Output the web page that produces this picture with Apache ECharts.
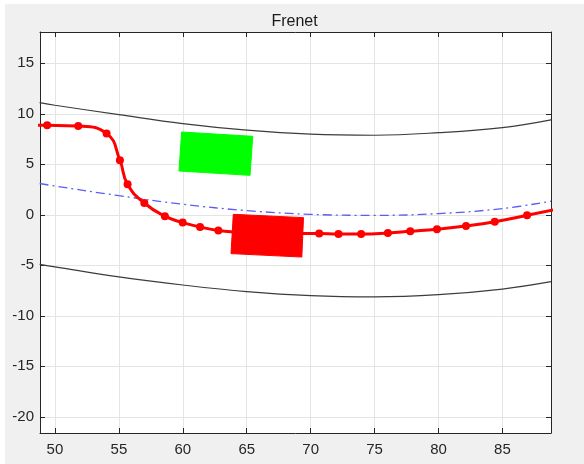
<!DOCTYPE html>
<html>
<head>
<meta charset="utf-8">
<script src="https://cdn.jsdelivr.net/npm/echarts@6/dist/echarts.min.js"></script>
<style>
  html, body { margin: 0; padding: 0; background: #ffffff; }
  #chart { position: absolute; left: 5px; top: 4px; width: 579px; height: 460px; }
</style>
</head>
<body>
<div id="chart"></div>
<script>
// Axis ranges and tick labels
const xRange = [48.83, 88.8];
const yRange = [-21.6, 18.1];
const xTicks = [50, 55, 60, 65, 70, 75, 80, 85];
const yTicks = [-20, -15, -10, -5, 0, 5, 10, 15];

// Road reference line (dash-dot) and lane boundaries
const centerX = [48.8, 50, 55, 60, 65, 70, 75, 80, 85, 88.8];
const centerY = [3.1, 2.85, 1.9, 1.05, 0.42, 0.05, -0.05, 0.12, 0.62, 1.35];
const upperY  = [11.1, 10.85, 9.92, 9.03, 8.38, 7.98, 7.88, 8.13, 8.63, 9.4];
const lowerY  = [-4.9, -5.15, -6.15, -6.95, -7.6, -8.0, -8.12, -7.9, -7.35, -6.62];

// Planned trajectory samples
const pathX = [47.0, 49.39, 51.82, 54.04, 55.08, 55.68, 56.99, 58.6, 59.99, 61.35, 62.78,
               64.2, 65.7, 67.2, 68.7, 70.67, 72.18, 73.95, 76.04, 77.79, 79.88, 82.15, 84.4, 86.93, 89.4];
const pathY = [8.88, 8.86, 8.79, 8.04, 5.40, 3.02, 1.17, -0.13, -0.77, -1.2, -1.55,
               -1.7, -1.77, -1.82, -1.85, -1.86, -1.9, -1.9, -1.8, -1.63, -1.42, -1.1, -0.68, -0.05, 0.6];

// Obstacles: corner coordinates (x, y) in drawing order
const greenBox = [[59.91, 8.2], [65.47, 7.77], [65.26, 3.91], [59.7, 4.34]];
const redBox   = [[63.95, 0.05], [69.44, -0.28], [69.31, -4.18], [63.77, -3.84]];

const zip = (xs, ys) => xs.map((x, i) => [x, ys[i]]);

const fontFamily = '"Liberation Sans", Arial, Helvetica, sans-serif';
const axisColor = '#262626';
const gridColor = '#e4e4e4';

function valueAxis(range, position, showLabels, ticks, isX) {
  return {
    type: 'value',
    position: position,
    min: range[0],
    max: range[1],
    splitNumber: 8,
    minInterval: 5,
    maxInterval: 5,
    axisLine: { show: true, onZero: false, lineStyle: { color: axisColor, width: 1 } },
    axisTick: { show: true, inside: true, length: 5, lineStyle: { color: axisColor } },
    axisLabel: {
      show: showLabels,
      showMinLabel: false,
      showMaxLabel: false,
      color: axisColor,
      fontSize: 15,
      fontFamily: fontFamily,
      margin: isX ? 9 : 6,
      formatter: v => (ticks.indexOf(v) >= 0 ? String(v) : '')
    },
    splitLine: { show: showLabels, lineStyle: { color: gridColor, width: 1 } }
  };
}

function polygonSeries(corners, color, z) {
  return {
    type: 'custom',
    z: z,
    silent: true,
    clip: true,
    data: [corners.flat()],
    dimensions: ['x0', 'y0', 'x1', 'y1', 'x2', 'y2', 'x3', 'y3'],
    encode: { x: [0, 2, 4, 6], y: [1, 3, 5, 7] },
    renderItem: (params, api) => {
      const pts = [];
      for (let i = 0; i < 4; i++) {
        pts.push(api.coord([api.value(2 * i), api.value(2 * i + 1)]));
      }
      return {
        type: 'polygon',
        shape: { points: pts },
        style: { fill: color, stroke: color, lineWidth: 1 }
      };
    }
  };
}

const chart = echarts.init(document.getElementById('chart'), null, { renderer: 'canvas' });

chart.setOption({
  backgroundColor: '#f0f0f0',
  animation: false,
  title: {
    text: 'Frenet',
    left: 'center',
    top: 5,
    textStyle: { fontFamily: fontFamily, fontSize: 16, fontWeight: 'normal', color: '#1a1a1a' }
  },
  grid: { left: 35, right: 33, top: 28, bottom: 31, show: true, backgroundColor: '#ffffff', borderWidth: 0 },
  xAxis: [
    valueAxis(xRange, 'bottom', true, xTicks, true),
    valueAxis(xRange, 'top', false, xTicks, true)
  ],
  yAxis: [
    valueAxis(yRange, 'left', true, yTicks, false),
    valueAxis(yRange, 'right', false, yTicks, false)
  ],
  series: [
    {
      name: 'upper',
      type: 'line',
      data: zip(centerX, upperY),
      smooth: 0.4,
      showSymbol: false,
      lineStyle: { color: '#3c3c3c', width: 1.2 },
      z: 2
    },
    {
      name: 'lower',
      type: 'line',
      data: zip(centerX, lowerY),
      smooth: 0.4,
      showSymbol: false,
      lineStyle: { color: '#3c3c3c', width: 1.2 },
      z: 2
    },
    {
      name: 'reference',
      type: 'line',
      data: zip(centerX, centerY),
      smooth: 0.4,
      showSymbol: false,
      lineStyle: { color: '#5c5cf2', width: 1.3, type: [9, 4, 2, 4] },
      z: 2
    },
    polygonSeries(greenBox, '#00ff00', 3),
    {
      name: 'path',
      type: 'line',
      data: zip(pathX, pathY),
      smooth: 0.5,
      symbol: 'circle',
      symbolSize: 8,
      showAllSymbol: true,
      itemStyle: { color: '#ff0000' },
      lineStyle: { color: '#ff0000', width: 3 },
      z: 3
    },
    polygonSeries(redBox, '#ff0000', 4)
  ]
});
</script>
</body>
</html>
